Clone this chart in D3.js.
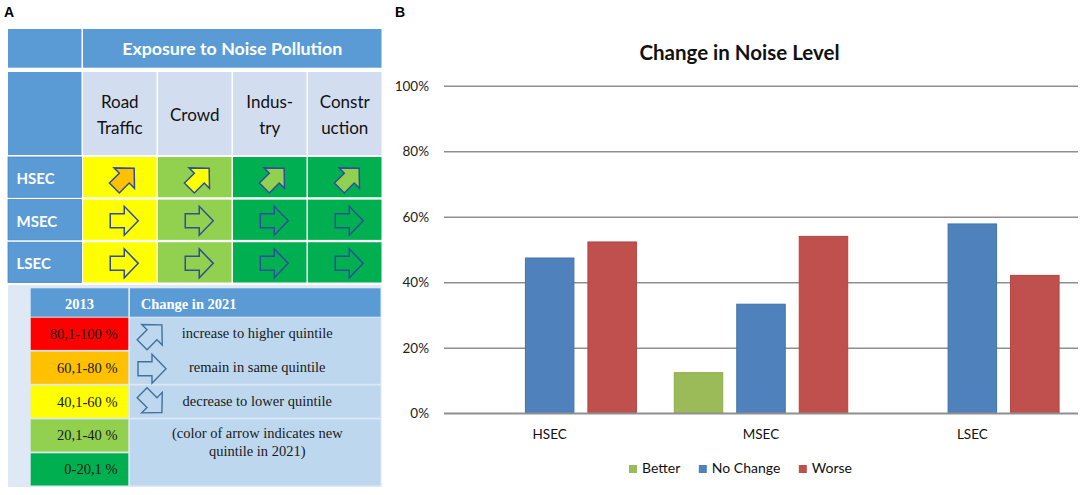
<!DOCTYPE html>
<html><head><meta charset="utf-8">
<script src="https://cdn.jsdelivr.net/npm/d3@7"></script>
<style>body{margin:0;background:#fff;} svg{display:block;}</style>
</head><body>
<svg id="c" width="1084" height="495"></svg>
<script>
// ===== Panel B data =====
const groups = ["HSEC", "MSEC", "LSEC"];
const series = ["Better", "No Change", "Worse"];
const betterVals = [null, 12.4, null];
const noChangeVals = [47.4, 33.3, 57.8];
const worseVals = [52.3, 54.0, 42.1];
const yTicks = [0, 20, 40, 60, 80, 100];
const chartTitle = "Change in Noise Level";

// ===== Panel A data =====
const tableTitle = "Exposure to Noise Pollution";
const sources = ["Road\nTraffic", "Crowd", "Indus-\ntry", "Constr\nuction"];
const secRows = ["HSEC", "MSEC", "LSEC"];
const quintile2013 = [[3, 2, 1, 1], [3, 2, 1, 1], [3, 2, 1, 1]];
const change2021 = [["up", "up", "up", "up"], ["same", "same", "same", "same"], ["same", "same", "same", "same"]];
const quintile2021 = [[4, 3, 2, 2], [3, 2, 1, 1], [3, 2, 1, 1]];
const legendHeaders = ["2013", "Change in 2021"];
const quintileLabels = ["80,1-100 %", "60,1-80 %", "40,1-60 %", "20,1-40 %", "0-20,1 %"];
const quintileOfLabel = [5, 4, 3, 2, 1];
const changeKeys = ["up", "same", "down"];
const changeLabels = ["increase to higher quintile", "remain in same quintile", "decrease to lower quintile"];
const noteLines = ["(color of arrow indicates new", "quintile in 2021)"];

const svg = d3.select("#c");
const sans = "Lato, 'Open Sans', sans-serif";
const serif = "'Liberation Serif', 'Times New Roman', serif";

const qColor = d3.scaleOrdinal().domain([1, 2, 3, 4, 5])
  .range(["#00B050", "#92D050", "#FFFF00", "#FFC000", "#FF0000"]);
const rot = {up: -45, same: 0, down: 45};
const arrowPath = "M-14,-7 L0,-7 L0,-14.5 L14,0 L0,14.5 L0,7 L-14,7 Z";

// ---------- Panel A ----------
const A = svg.append("g");
A.append("text").attr("x", 4).attr("y", 17).text("A")
  .attr("font-family", "Arial, 'Liberation Sans', sans-serif").attr("font-weight", "bold").attr("font-size", 14);

const colX = d3.scaleBand().domain(["_", ...sources]).range([8, 381.5]).paddingInner(0.02);
const rowY = d3.scaleBand().domain(secRows).range([157, 282.5]).paddingInner(0.055);
const hdr1 = [29, 67.7], hdr2 = [72, 155];
const blue = "#5B9BD5";

// header row 1
A.append("rect").attr("x", colX("_")).attr("y", hdr1[0]).attr("width", colX.bandwidth()).attr("height", hdr1[1] - hdr1[0]).attr("fill", blue);
A.append("rect").attr("x", colX(sources[0])).attr("y", hdr1[0])
  .attr("width", colX(sources[3]) + colX.bandwidth() - colX(sources[0])).attr("height", hdr1[1] - hdr1[0]).attr("fill", blue);
A.append("text").attr("x", (colX(sources[0]) + colX(sources[3]) + colX.bandwidth()) / 2).attr("y", (hdr1[0] + hdr1[1]) / 2)
  .attr("text-anchor", "middle").attr("dominant-baseline", "central")
  .attr("font-family", sans).attr("font-weight", "bold").attr("font-size", 17.8).attr("fill", "#fff").text(tableTitle);

// header row 2
A.append("rect").attr("x", colX("_")).attr("y", hdr2[0]).attr("width", colX.bandwidth()).attr("height", hdr2[1] - hdr2[0]).attr("fill", blue);
const h2 = A.selectAll("g.h2").data(sources).join("g").attr("class", "h2");
h2.append("rect").attr("x", d => colX(d)).attr("y", hdr2[0]).attr("width", colX.bandwidth()).attr("height", hdr2[1] - hdr2[0]).attr("fill", "#D2DEEF");
h2.each(function (d) {
  const lines = d.split("\n");
  const cy = (hdr2[0] + hdr2[1]) / 2 + 1;
  d3.select(this).selectAll("text").data(lines).join("text")
    .attr("x", colX(d) + colX.bandwidth() / 2)
    .attr("y", (l, i) => cy + (i - (lines.length - 1) / 2) * 26)
    .attr("text-anchor", "middle").attr("dominant-baseline", "central")
    .attr("font-family", sans).attr("font-size", 17).attr("fill", "#111").text(l => l);
});

// data rows
const rows = A.selectAll("g.row").data(secRows).join("g").attr("class", "row");
rows.append("rect").attr("x", colX("_")).attr("y", d => rowY(d)).attr("width", colX.bandwidth()).attr("height", rowY.bandwidth())
  .attr("fill", blue).attr("stroke", "#4A86C3").attr("stroke-width", 0.8);
rows.append("text").attr("x", 16.5).attr("y", d => rowY(d) + rowY.bandwidth() / 2 + 1)
  .attr("dominant-baseline", "central").attr("font-family", sans).attr("font-weight", "bold")
  .attr("font-size", 15).attr("fill", "#fff").text(d => d);

const cells = [];
secRows.forEach((r, ri) => sources.forEach((s, ci) => cells.push({
  r, s, q0: quintile2013[ri][ci], ch: change2021[ri][ci], q1: quintile2021[ri][ci]
})));
A.selectAll("rect.cell").data(cells).join("rect").attr("class", "cell")
  .attr("x", d => colX(d.s)).attr("y", d => rowY(d.r)).attr("width", colX.bandwidth()).attr("height", rowY.bandwidth())
  .attr("fill", d => qColor(d.q0));
A.selectAll("path.arrow").data(cells).join("path").attr("class", "arrow")
  .attr("d", arrowPath)
  .attr("transform", d => `translate(${colX(d.s) + colX.bandwidth() / 2 + 4.5},${rowY(d.r) + rowY.bandwidth() / 2 + 1}) rotate(${rot[d.ch]})`)
  .attr("fill", d => qColor(d.q1)).attr("stroke", "#2F4F9C").attr("stroke-width", 1.5).attr("stroke-linejoin", "miter");

// legend table
A.append("rect").attr("x", 8).attr("y", 285).attr("width", 373.5).attr("height", 202).attr("fill", "#DFE8F5");
const lx0 = [30.7, 128.3], lx1 = [130, 380.5];
const lhdr = [288.3, 316.7];
const lRow = d3.scaleBand().domain(quintileLabels).range([317.7, 485.5]).paddingInner(0.05);
A.append("rect").attr("x", lx0[0]).attr("y", lhdr[0]).attr("width", lx0[1] - lx0[0]).attr("height", lhdr[1] - lhdr[0]).attr("fill", blue);
A.append("rect").attr("x", lx1[0]).attr("y", lhdr[0]).attr("width", lx1[1] - lx1[0]).attr("height", lhdr[1] - lhdr[0]).attr("fill", blue);
A.append("text").attr("x", (lx0[0] + lx0[1]) / 2).attr("y", (lhdr[0] + lhdr[1]) / 2 + 1)
  .attr("text-anchor", "middle").attr("dominant-baseline", "central")
  .attr("font-family", serif).attr("font-weight", "bold").attr("font-size", 14.5).attr("fill", "#fff").text(legendHeaders[0]);
A.append("text").attr("x", 140.7).attr("y", (lhdr[0] + lhdr[1]) / 2 + 1)
  .attr("dominant-baseline", "central")
  .attr("font-family", serif).attr("font-weight", "bold").attr("font-size", 14.5).attr("fill", "#fff").text(legendHeaders[1]);

A.selectAll("rect.q").data(quintileLabels).join("rect").attr("class", "q")
  .attr("x", lx0[0]).attr("y", d => lRow(d)).attr("width", lx0[1] - lx0[0]).attr("height", lRow.bandwidth())
  .attr("fill", (d, i) => qColor(quintileOfLabel[i]));
A.selectAll("text.q").data(quintileLabels).join("text").attr("class", "q")
  .attr("x", 117.5).attr("y", d => lRow(d) + lRow.bandwidth() / 2)
  .attr("text-anchor", "end").attr("dominant-baseline", "central")
  .attr("font-family", serif).attr("font-size", 14.5).attr("fill", "#1a1a1a").text(d => d);

// right column merged cells
const spans = [[0, 1], [2, 2], [3, 4]];
A.selectAll("rect.rc").data(spans).join("rect").attr("class", "rc")
  .attr("x", lx1[0]).attr("y", d => lRow(quintileLabels[d[0]]))
  .attr("width", lx1[1] - lx1[0])
  .attr("height", d => lRow(quintileLabels[d[1]]) + lRow.bandwidth() - lRow(quintileLabels[d[0]]))
  .attr("fill", "#BDD7EE");
const rcx = (lx1[0] + lx1[1]) / 2;
A.selectAll("text.ch").data(changeLabels).join("text").attr("class", "ch")
  .attr("x", rcx + 2).attr("y", (d, i) => lRow(quintileLabels[i]) + lRow.bandwidth() / 2 - 1)
  .attr("text-anchor", "middle").attr("dominant-baseline", "central")
  .attr("font-family", serif).attr("font-size", 14.5).attr("fill", "#1a1a1a").text(d => d);
A.selectAll("path.lg").data(changeKeys).join("path").attr("class", "lg")
  .attr("d", arrowPath)
  .attr("transform", (d, i) => `translate(${lx1[0] + 22},${lRow(quintileLabels[i]) + lRow.bandwidth() / 2 + 1}) rotate(${rot[d]})`)
  .attr("fill", "#BDD7EE").attr("stroke", "#41719C").attr("stroke-width", 1.4);
A.selectAll("text.note").data(noteLines).join("text").attr("class", "note")
  .attr("x", rcx + 2).attr("y", (d, i) => lRow(quintileLabels[3]) + lRow.bandwidth() / 2 - 2 + i * 17.5)
  .attr("text-anchor", "middle").attr("dominant-baseline", "central")
  .attr("font-family", serif).attr("font-size", 14.5).attr("fill", "#1a1a1a").text(d => d);

// ---------- Panel B ----------
const B = svg.append("g");
B.append("text").attr("x", 395).attr("y", 17).text("B")
  .attr("font-family", "Arial, 'Liberation Sans', sans-serif").attr("font-weight", "bold").attr("font-size", 14);

const x0 = d3.scaleBand().domain(groups).range([444, 1078]);
const x1 = d3.scaleBand().domain(series).range([0, x0.bandwidth()]).paddingInner(0.208).paddingOuter(0.295);
const y = d3.scaleLinear().domain([0, 100]).range([413.3, 85.7]);
const colors = d3.scaleOrdinal().domain(series).range(["#9BBB59", "#4F81BD", "#C0504D"]);
const strokes = d3.scaleOrdinal().domain(series).range(["#8DAC4C", "#4272AE", "#B2443F"]);

B.append("text").attr("x", 739.5).attr("y", 60).attr("text-anchor", "middle")
  .attr("font-family", sans).attr("font-weight", "bold").attr("font-size", 20.5).attr("fill", "#111").text(chartTitle);

const yAxis = B.append("g").attr("transform", `translate(${x0.range()[0]},0)`)
  .call(d3.axisLeft(y).tickValues(yTicks).tickFormat(d => d + "%").tickSize(-(x0.range()[1] - x0.range()[0])).tickPadding(15));
yAxis.select(".domain").remove();
yAxis.selectAll(".tick line").attr("stroke", "#8F8F8F").attr("stroke-width", 1.6);
yAxis.selectAll(".tick text").attr("font-family", sans).attr("font-size", 13.5).attr("fill", "#222");

const data = [];
groups.forEach((g, i) => {
  [betterVals, noChangeVals, worseVals].forEach((arr, si) => {
    if (arr[i] != null) data.push({g, s: series[si], v: arr[i]});
  });
});
B.selectAll("rect.bar").data(data).join("rect").attr("class", "bar")
  .attr("x", d => x0(d.g) + x1(d.s) + 0.5).attr("width", x1.bandwidth() - 1)
  .attr("y", d => y(d.v)).attr("height", d => y(0) - y(d.v))
  .attr("fill", d => colors(d.s)).attr("stroke", d => strokes(d.s)).attr("stroke-width", 1);

B.append("line").attr("x1", x0.range()[0]).attr("x2", x0.range()[1]).attr("y1", y(0)).attr("y2", y(0))
  .attr("stroke", "#8F8F8F").attr("stroke-width", 1.6);

const xAxis = B.append("g").attr("transform", `translate(0,${y(0)})`)
  .call(d3.axisBottom(x0).tickSize(0).tickPadding(16.4));
xAxis.select(".domain").remove();
xAxis.selectAll(".tick text").attr("font-family", sans).attr("font-size", 13.5).attr("fill", "#111");

// legend
const leg = B.append("g");
let lxPos = 629;
series.forEach(s => {
  const g = leg.append("g").attr("transform", `translate(${lxPos},0)`);
  g.append("rect").attr("x", 0).attr("y", 465).attr("width", 8).attr("height", 8).attr("fill", colors(s));
  const t = g.append("text").attr("x", 13).attr("y", 473.3)
    .attr("font-family", sans).attr("font-size", 14).attr("fill", "#111").text(s);
  lxPos += 13 + t.node().getComputedTextLength() + 18.5;
});
</script>
</body></html>
